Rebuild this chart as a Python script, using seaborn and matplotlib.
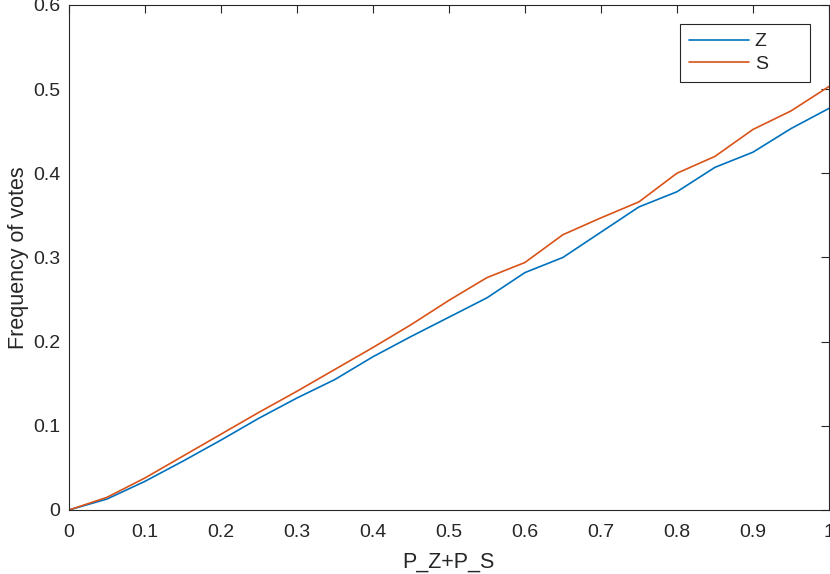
import pandas as pd
import matplotlib
matplotlib.use('Agg')
import matplotlib.pyplot as plt
import matplotlib.ticker as mticker
import seaborn as sns

# values
p_sum = [0, 0.05, 0.1, 0.15, 0.2, 0.25, 0.3, 0.35, 0.4, 0.45, 0.5,
         0.55, 0.6, 0.65, 0.7, 0.75, 0.8, 0.85, 0.9, 0.95, 1.0]
freq_z = [0, 0.013, 0.034, 0.058, 0.083, 0.109, 0.133, 0.155, 0.182, 0.206, 0.229,
          0.252, 0.282, 0.300, 0.330, 0.360, 0.378, 0.407, 0.425, 0.453, 0.477]
freq_s = [0, 0.015, 0.038, 0.064, 0.090, 0.116, 0.141, 0.167, 0.193, 0.220, 0.249,
          0.276, 0.294, 0.327, 0.347, 0.366, 0.400, 0.420, 0.452, 0.474, 0.503]
series = ['Z', 'S']
colors = ['#0072BD', '#D95319']

df = pd.concat([
    pd.DataFrame({'x': p_sum, 'y': freq_z, 'who': 'Z'}),
    pd.DataFrame({'x': p_sum, 'y': freq_s, 'who': 'S'}),
])

sns.set_style('white')
plt.rcParams['font.family'] = ['Liberation Sans', 'DejaVu Sans']

fig = plt.figure(figsize=(8.3, 5.74), dpi=100)
ax = fig.add_axes([0.083, 0.1115, 0.9157, 0.88])
sns.lineplot(data=df, x='x', y='y', hue='who', hue_order=series,
             palette=colors, linewidth=1.2, ax=ax)

ax.set_xlim(0, 1)
ax.set_ylim(0, 0.6)
ax.set_xticks([i / 10 for i in range(11)])
ax.set_yticks([i / 10 for i in range(7)])
fmt = mticker.FormatStrFormatter('%g')
ax.xaxis.set_major_formatter(fmt)
ax.yaxis.set_major_formatter(fmt)
ax.tick_params(direction='in', length=6, width=0.8, colors='#262626',
               labelsize=14, top=True, right=True)
ax.tick_params(axis='x', pad=10)
ax.tick_params(axis='y', pad=6)
for s in ax.spines.values():
    s.set_color('#262626')
    s.set_linewidth(0.8)
ax.set_xlabel('P_Z+P_S', fontsize=15.5, color='#262626', labelpad=8)
ax.set_ylabel('Frequency of votes', fontsize=15.5, color='#262626', labelpad=3)

# MATLAB-like legend box: wider than its content, anchored top right
leg = ax.legend(loc='upper right', bbox_to_anchor=(0.804, 0.5, 0.171, 0.462),
                mode='expand', fontsize=14,
                fancybox=False, edgecolor='#262626', framealpha=1,
                handlelength=3.1, handletextpad=0.3, borderpad=0.45,
                labelspacing=0.25, borderaxespad=0)
leg.get_frame().set_linewidth(0.8)

fig.savefig('out.png', dpi=100)
